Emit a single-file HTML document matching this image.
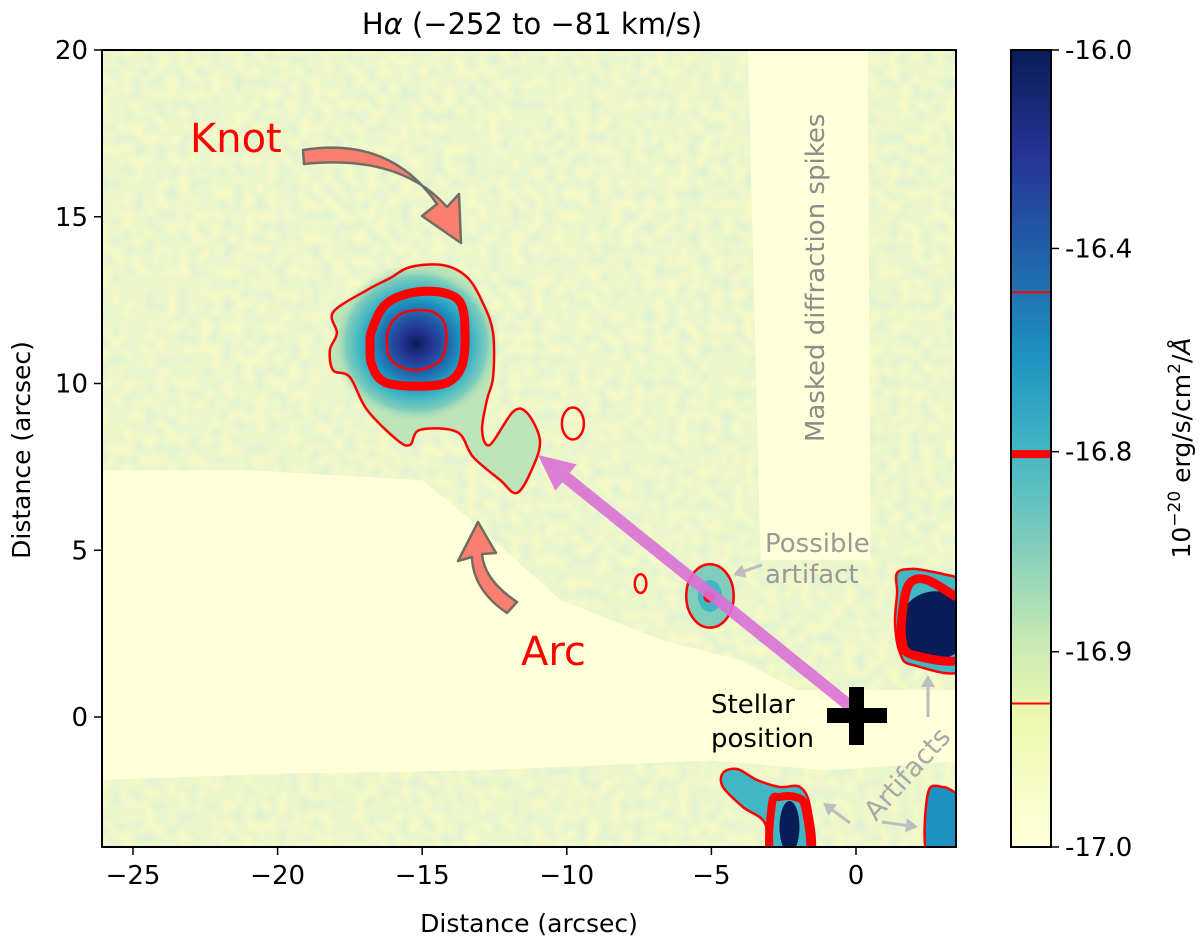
<!DOCTYPE html>
<html><head><meta charset="utf-8">
<style>
html,body{margin:0;padding:0;background:#fff;}
svg{display:block;font-family:"DejaVu Sans","Liberation Sans",sans-serif;}
</style></head>
<body>
<svg id="fig" width="1200" height="948" viewBox="0 0 1200 948" xmlns="http://www.w3.org/2000/svg">
<defs>
  <clipPath id="plotclip"><rect x="102" y="50" width="854" height="797"/></clipPath>
  <filter id="noise" x="0" y="0" width="100%" height="100%">
    <feTurbulence type="fractalNoise" baseFrequency="0.09" numOctaves="1" seed="3"/>
    <feColorMatrix values="0 0 0 0 0.74  0 0 0 0 0.89  0 0 0 0 0.66  2.0 0 0 0 -0.65"/>
  </filter>
  <radialGradient id="knotgrad">
    <stop offset="0" stop-color="#081d58"/>
    <stop offset="0.18" stop-color="#253494"/>
    <stop offset="0.36" stop-color="#225ea8"/>
    <stop offset="0.52" stop-color="#1d91c0"/>
    <stop offset="0.68" stop-color="#41b6c4"/>
    <stop offset="0.84" stop-color="#7fcdbb"/>
    <stop offset="1" stop-color="#c7e9b4" stop-opacity="0"/>
  </radialGradient>
  <linearGradient id="cbgrad" x1="0" y1="0" x2="0" y2="1">
    <stop offset="0" stop-color="#081d58"/>
    <stop offset="0.13" stop-color="#253494"/>
    <stop offset="0.25" stop-color="#225ea8"/>
    <stop offset="0.38" stop-color="#1d91c0"/>
    <stop offset="0.5" stop-color="#41b6c4"/>
    <stop offset="0.62" stop-color="#7fcdbb"/>
    <stop offset="0.74" stop-color="#c7e9b4"/>
    <stop offset="0.84" stop-color="#edf8b1"/>
    <stop offset="1" stop-color="#ffffd9"/>
  </linearGradient>
</defs>
<text x="532" y="34" font-size="29" text-anchor="middle">H<tspan font-style="italic">α</tspan> (−252 to  −81 km/s)</text>
<g id="plot" clip-path="url(#plotclip)"></g>
<rect x="102" y="50" width="854" height="797" fill="none" stroke="#000" stroke-width="2"/>
<g id="axes"></g>
<text transform="translate(30,450) rotate(-90)" font-size="25" text-anchor="middle">Distance (arcsec)</text>
<text x="529" y="932" font-size="25" text-anchor="middle">Distance (arcsec)</text>
<g id="cbar"></g>
<text transform="translate(1190,448) rotate(-90)" font-size="25" text-anchor="middle">10<tspan dy="-10" font-size="17">−20</tspan><tspan dy="10"> erg/s/cm</tspan><tspan dy="-10" font-size="17">2</tspan><tspan dy="10">/</tspan><tspan font-style="italic">Å</tspan></text>
</svg>
<script>
// ---- data (arcsec) ----
const xTicks = [-25, -20, -15, -10, -5, 0];
const yTicks = [0, 5, 10, 15, 20];
const xDomain = [-26.1, 3.5];
const yDomain = [-3.9, 20];
const cbTicks = ["-16.0", "-16.4", "-16.8", "-16.9", "-17.0"];
const cbTickFrac = [0, 0.249, 0.504, 0.755, 1];
const cbContourFrac = [0.304, 0.507, 0.82];
const cbContourWidth = [2, 8, 2];
const knotCenter = [-15.2, 11.2];
const knotOuter = [[-18.08,12.14],[-16.91,12.80],[-16.11,13.16],[-15.42,13.49],[-14.28,13.55],[-13.45,13.19],[-12.90,12.41],[-12.55,11.51],[-12.55,10.19],[-12.76,9.51],[-12.93,8.61],[-12.66,8.16],[-11.86,9.15],[-11.38,9.12],[-10.93,8.31],[-11.17,7.50],[-11.72,6.72],[-12.31,7.11],[-13.24,7.80],[-13.80,8.55],[-15.08,8.61],[-15.42,8.16],[-15.87,8.31],[-16.91,9.21],[-17.50,10.19],[-18.08,10.40],[-18.19,11.00],[-17.95,11.51]];
const knotMid = [[-16.74,11.60],[-16.29,12.35],[-15.42,12.71],[-14.38,12.74],[-13.69,12.44],[-13.52,11.60],[-13.62,10.55],[-14.11,10.04],[-15.08,9.92],[-16.29,10.04],[-16.74,10.55],[-16.80,11.15]];
const knotInner = [[-16.11,11.75],[-15.59,12.14],[-14.73,12.17],[-14.25,11.84],[-14.18,11.15],[-14.45,10.64],[-15.25,10.40],[-16.01,10.64],[-16.22,11.15]];
const smallLoops = [[-9.79,8.80,0.38,0.48],[-7.45,4.0,0.2,0.28]];
const artifactCenter = [-5.05, 3.63];
const artifactR = [0.82, 0.95];
const urOuter = [[1.42,4.32],[1.97,4.44],[2.66,4.35],[3.49,4.20],[3.8,4.2],[3.8,1.5],[1.97,1.56],[1.52,1.92],[1.35,2.82],[1.42,3.72]];
const urMid = [[1.87,4.02],[2.46,4.11],[3.49,3.60],[3.8,3.6],[3.8,1.8],[1.97,1.86],[1.59,2.31],[1.63,3.30]];
const bmOuter = [[-4.60,-1.68],[-4.11,-1.56],[-3.42,-1.89],[-2.63,-2.10],[-1.94,-2.10],[-1.59,-2.70],[-1.52,-4.2],[-2.97,-4.2],[-3.15,-3.18],[-3.91,-2.70],[-4.60,-2.10]];
const bmMid = [[-2.90,-2.58],[-2.63,-2.40],[-2.11,-2.40],[-1.76,-2.70],[-1.66,-4.2],[-2.90,-4.2]];
const brOuter = [[2.49,-4.2],[2.49,-2.28],[3.01,-2.10],[3.49,-2.28],[3.8,-2.3],[3.8,-4.2]];
const maskTop = [[-3.75,20.5],[0.4,20.5],[0.5,4.7],[-3.3,4.7]];
const maskLow = [[-26.5,7.4],[-21,7.4],[-15,7.1],[-13.3,5.9],[-10.2,3.5],[-6.7,2.3],[-4.0,1.7],[-2.0,0.8],[3.8,0.8],[3.8,-1.3],[-1.0,-1.6],[-5,-1.3],[-13,-1.6],[-20,-1.7],[-26.5,-1.9]];

const NS = "http://www.w3.org/2000/svg";
const X0 = 102, X1 = 956, Y0 = 50, Y1 = 847;
const X = v => 856 + (v) * 28.92;
const Y = v => 717 - (v) * 33.35;
function el(tag, attrs, parent) {
  const e = document.createElementNS(NS, tag);
  for (const k in attrs) e.setAttribute(k, attrs[k]);
  parent.appendChild(e);
  return e;
}
function pts(arr) { return arr.map(p => X(p[0]).toFixed(1) + "," + Y(p[1]).toFixed(1)).join(" "); }
function smooth(arr) {
  const P = arr.map(p => [X(p[0]), Y(p[1])]);
  const n = P.length;
  let d = "M" + P[0][0].toFixed(1) + "," + P[0][1].toFixed(1);
  for (let i = 0; i < n; i++) {
    const p0 = P[(i - 1 + n) % n], p1 = P[i], p2 = P[(i + 1) % n], p3 = P[(i + 2) % n];
    const c1 = [p1[0] + (p2[0] - p0[0]) / 6, p1[1] + (p2[1] - p0[1]) / 6];
    const c2 = [p2[0] - (p3[0] - p1[0]) / 6, p2[1] - (p3[1] - p1[1]) / 6];
    d += " C" + c1.map(v => v.toFixed(1)).join(",") + " " + c2.map(v => v.toFixed(1)).join(",") + " " + p2[0].toFixed(1) + "," + p2[1].toFixed(1);
  }
  return d + "Z";
}
const plot = document.getElementById("plot");
let bg = el("rect", {x: X0, y: Y0, width: X1 - X0, height: Y1 - Y0, fill: "#f4f9c6"}, plot);


let nz = el("rect", {x: X0, y: Y0, width: X1 - X0, height: Y1 - Y0, filter: "url(#noise)"}, plot);


[maskTop, maskLow].forEach((m, i) => {
  const p = el("polygon", {points: pts(m), fill: "#ffffd9"}, plot);
  
  
});
let kf = el("path", {d: smooth(knotOuter), fill: "#b5e0b6", opacity: "0.85"}, plot);


let kb = el("ellipse", {cx: X(knotCenter[0]), cy: Y(knotCenter[1]), rx: 84, ry: 80, fill: "url(#knotgrad)"}, plot);


let ab = el("ellipse", {cx: X(artifactCenter[0]), cy: Y(artifactCenter[1]), rx: artifactR[0] * 28.92, ry: artifactR[1] * 33.35, fill: "#7fcdbb"}, plot);


let ab2 = el("ellipse", {cx: X(artifactCenter[0]), cy: Y(artifactCenter[1]), rx: 12, ry: 16, fill: "#41b6c4"}, plot);


let ur = el("path", {d: smooth(urOuter), fill: "#41b6c4"}, plot);


let urd = el("ellipse", {cx: X(2.75), cy: Y(2.75), rx: 36, ry: 34, fill: "#081d58"}, plot);


let bm = el("path", {d: smooth(bmOuter), fill: "#41b6c4"}, plot);


let bmd = el("ellipse", {cx: X(-2.3), cy: Y(-3.3), rx: 10, ry: 26, fill: "#081d58"}, plot);


let br = el("path", {d: smooth(brOuter), fill: "#1d91c0"}, plot);


function contour(arr, w, name) {
  const c = el("path", {d: smooth(arr), fill: "none", stroke: "#ff0000", "stroke-width": w, "stroke-linejoin": "round"}, plot);
  
  
}
contour(knotOuter, 2.5, 'knot-contour-outer');
contour(knotMid, 9, 'knot-contour-middle');
contour(knotInner, 2.5, 'knot-contour-inner');
contour(urOuter, 2.5, 'upper-right-contour-outer');
contour(urMid, 9, 'upper-right-contour-middle');
contour(bmOuter, 2.5, 'bottom-contour-outer');
contour(bmMid, 8, 'bottom-contour-middle');
contour(brOuter, 2.5, 'bottom-right-contour');
smallLoops.forEach(s => {
  const c = el("ellipse", {cx: X(s[0]), cy: Y(s[1]), rx: s[2] * 28.92, ry: s[3] * 33.35, fill: "none", stroke: "#ff0000", "stroke-width": 2.5}, plot);
  
  
});
let ac = el("ellipse", {cx: X(artifactCenter[0]), cy: Y(artifactCenter[1]), rx: artifactR[0] * 28.92, ry: artifactR[1] * 33.35, fill: "none", stroke: "#ff0000", "stroke-width": 2.5}, plot);


let ad = el("circle", {cx: X(artifactCenter[0]) - 1, cy: Y(artifactCenter[1]) + 1, r: 5.5, fill: "#ff0000"}, plot);


const tip = [538, 455], tail = [850, 706];
const ang = Math.atan2(tip[1] - tail[1], tip[0] - tail[0]);
const hl = 36, hw = 17, sw = 6;
const ux = Math.cos(ang), uy = Math.sin(ang), nx = -uy, ny = ux;
const bx = tip[0] - ux * hl, by = tip[1] - uy * hl;
const pa = [[tail[0] + nx * sw, tail[1] + ny * sw], [bx + nx * sw, by + ny * sw], [bx + nx * hw, by + ny * hw], tip, [bx - nx * hw, by - ny * hw], [bx - nx * sw, by - ny * sw], [tail[0] - nx * sw, tail[1] - ny * sw]];
let pk = el("polygon", {points: pa.map(p => p.join(",")).join(" "), fill: "#da70d6", opacity: "0.9"}, plot);


let ka = el("path", {d: "M303,150 Q390,136 437,204 L422,216 L461,243 L459,194 L447,207 Q400,154 304,164 Z", fill: "#fa7f6e", stroke: "#6e6e64", "stroke-width": 2.5, "stroke-linejoin": "round"}, plot);


let aa = el("path", {d: "M517,602 Q484,580 482,554 L496,553 L478,522 L458,561 L472,557 Q473,590 507,613 Z", fill: "#fa7f6e", stroke: "#6e6e64", "stroke-width": 2.5, "stroke-linejoin": "round"}, plot);


function garrow(x1, y1, x2, y2, name) {
  const a = Math.atan2(y2 - y1, x2 - x1);
  const g = el("g", {}, plot);
  
  
  el("line", {x1: x1, y1: y1, x2: x2 - Math.cos(a) * 6, y2: y2 - Math.sin(a) * 6, stroke: "#bdbdbd", "stroke-width": 3}, g);
  const hx = x2 - Math.cos(a) * 12, hy = y2 - Math.sin(a) * 12;
  el("polygon", {points: [x2 + "," + y2, (hx - Math.sin(a) * 7) + "," + (hy + Math.cos(a) * 7), (hx + Math.sin(a) * 7) + "," + (hy - Math.cos(a) * 7)].join(" "), fill: "#bdbdbd"}, g);
}
garrow(762, 565, 733, 575, 'possible-artifact-pointer');
garrow(928, 717, 928, 675, 'artifact-pointer-up');
garrow(850, 823, 823, 803, 'artifact-pointer-left');
garrow(882, 822, 918, 827, 'artifact-pointer-right');
let cr = el("path", {d: "M849,687 h15 v21 h23 v15 h-23 v22 h-15 v-22 h-22 v-15 h22 Z", fill: "#000"}, plot);


function txt(x, y, s, size, color, name, extra) {
  const t = el("text", Object.assign({x: x, y: y, "font-size": size, fill: color, "font-family": "DejaVu Sans, Liberation Sans, sans-serif"}, extra || {}), plot);
  t.textContent = s;
  
  
  return t;
}
txt(190, 152, "Knot", 40, "#ff0000", 'knot-label');
txt(521, 665, "Arc", 40, "#ff0000", 'arc-label');
txt(711, 713, "Stellar", 26, "#000", 'stellar-label-line1');
txt(711, 747, "position", 26, "#000", 'stellar-label-line2');
txt(765, 552, "Possible", 26, "#999999", 'possible-artifact-label-line1');
txt(765, 583, "artifact", 26, "#999999", 'possible-artifact-label-line2');
txt(0, 0, "Artifacts", 27, "#a8a8a8", 'artifacts-label', {transform: "translate(876,822) rotate(-48)"});
txt(0, 0, "Masked diffraction spikes", 26, "#8c8c8c", 'masked-spikes-label', {transform: "translate(824,442) rotate(-90)"});
const axes = document.getElementById("axes");
xTicks.forEach(v => {
  const g = el("g", {}, axes);
  
  
  el("line", {x1: X(v), x2: X(v), y1: Y1, y2: Y1 + 8, stroke: "#000", "stroke-width": 1.5}, g);
  const t = el("text", {x: X(v), y: Y1 + 37, "font-size": 26, "text-anchor": "middle"}, g);
  t.textContent = v < 0 ? "−" + Math.abs(v) : String(v);
});
yTicks.forEach(v => {
  const g = el("g", {}, axes);
  
  
  el("line", {x1: X0 - 8, x2: X0, y1: Y(v), y2: Y(v), stroke: "#000", "stroke-width": 1.5}, g);
  const t = el("text", {x: X0 - 14, y: Y(v) + 9, "font-size": 26, "text-anchor": "end"}, g);
  t.textContent = String(v);
});
const cb = document.getElementById("cbar");
const CX = 1011, CW = 40;
let cbr = el("rect", {x: CX, y: Y0, width: CW, height: Y1 - Y0, fill: "url(#cbgrad)"}, cb);


cbContourFrac.forEach((f, i) => {
  const l = el("line", {x1: CX, x2: CX + CW, y1: Y0 + f * (Y1 - Y0), y2: Y0 + f * (Y1 - Y0), stroke: "#ff0000", "stroke-width": cbContourWidth[i]}, cb);
  
  
});
el("rect", {x: CX, y: Y0, width: CW, height: Y1 - Y0, fill: "none", stroke: "#000", "stroke-width": 2}, cb);
cbTicks.forEach((s, i) => {
  const y = Y0 + cbTickFrac[i] * (Y1 - Y0);
  const g = el("g", {}, cb);
  
  
  el("line", {x1: CX + CW, x2: CX + CW + 8, y1: y, y2: y, stroke: "#000", "stroke-width": 1.5}, g);
  const t = el("text", {x: CX + CW + 14, y: y + 9, "font-size": 26}, g);
  t.textContent = s;
});
</script>
</body></html>
